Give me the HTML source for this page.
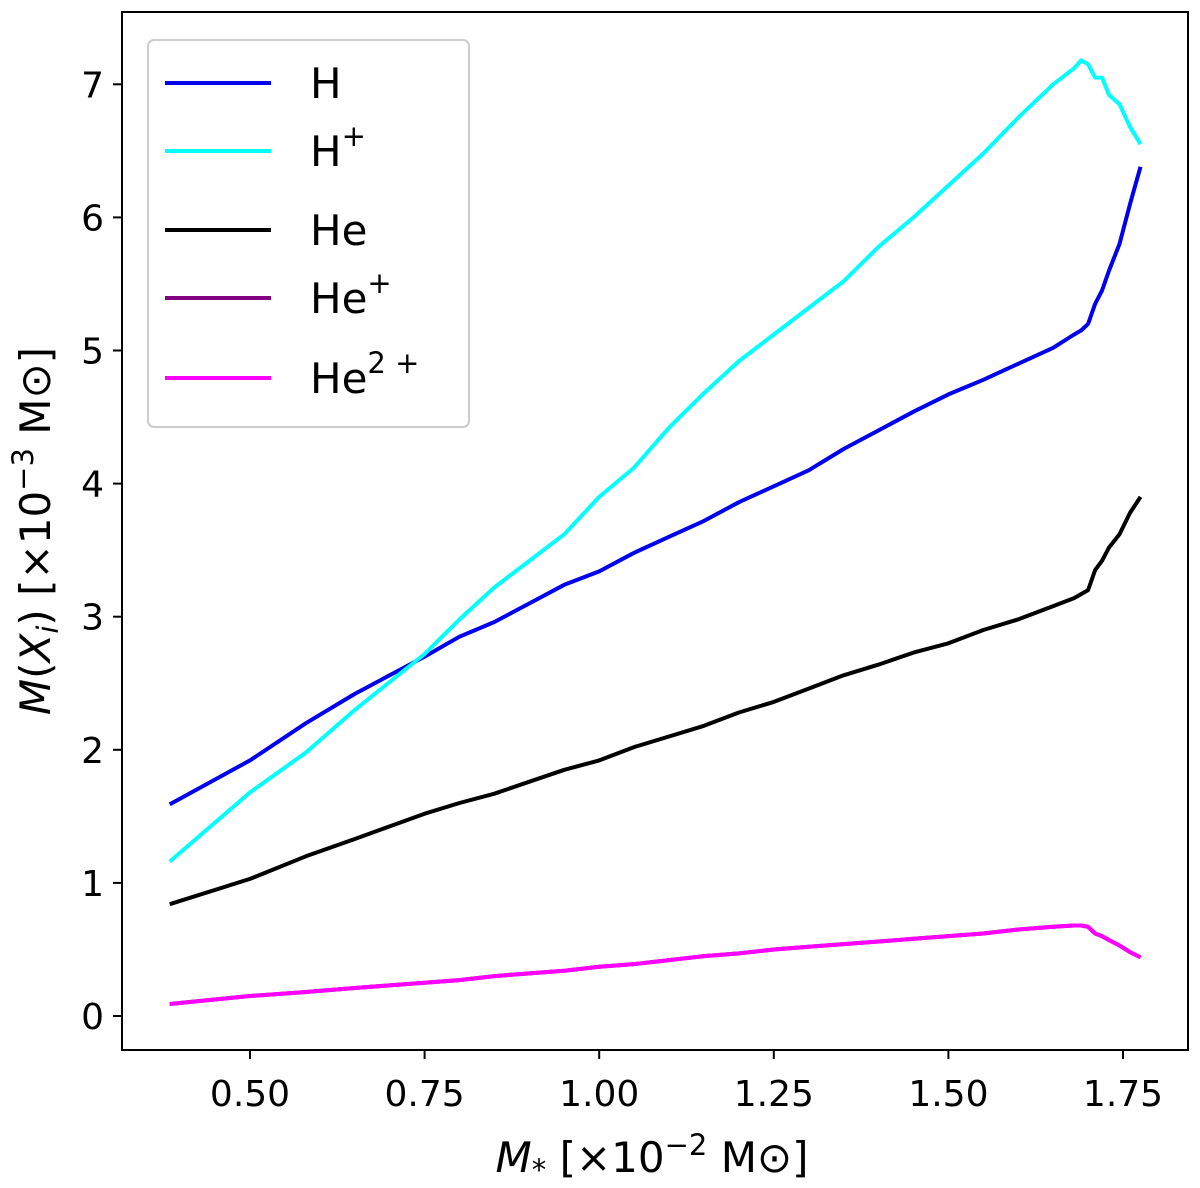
<!DOCTYPE html>
<html><head><meta charset="utf-8"><style>
body{margin:0;background:#fff}
text{font-family:"DejaVu Sans","Liberation Sans",sans-serif}
</style></head><body>
<svg id="chart" width="1200" height="1183" xmlns="http://www.w3.org/2000/svg">
<rect width="1200" height="1183" fill="#fff"/>
<g id="plot"></g>
<rect x="122" y="12" width="1066" height="1038" fill="none" stroke="#000" stroke-width="2"/>
<g id="ticks"></g>
<text x="652" y="1172" font-size="42" text-anchor="middle"><tspan font-style="italic">M</tspan><tspan font-size="29" dy="8">*</tspan><tspan dy="-8"> [×10</tspan><tspan font-size="29" dy="-17">−2</tspan><tspan dy="17"> M⊙]</tspan></text>
<text transform="translate(50,531) rotate(-90)" font-size="42" text-anchor="middle"><tspan font-style="italic">M</tspan>(<tspan font-style="italic">X</tspan><tspan font-size="29" dy="8" font-style="italic">i</tspan><tspan dy="-8">) [×10</tspan><tspan font-size="29" dy="-17">−3</tspan><tspan dy="17"> M⊙]</tspan></text>
<g>
<rect x="148" y="40" width="321" height="387" rx="6" fill="#fff" fill-opacity="0.8" stroke="#ccc" stroke-width="2"/>
<g id="legend-items"></g>
</g>
</svg>
<script>
const xs = [0.385,0.5,0.58,0.65,0.75,0.8,0.85,0.9,0.95,1.0,1.05,1.1,1.15,1.2,1.25,1.3,1.35,1.4,1.45,1.5,1.55,1.6,1.65,1.68,1.69,1.70,1.71,1.72,1.73,1.745,1.76,1.775];
const H = [1.59,1.92,2.2,2.42,2.7,2.85,2.96,3.1,3.24,3.34,3.48,3.6,3.72,3.86,3.98,4.1,4.26,4.4,4.54,4.67,4.78,4.9,5.02,5.12,5.15,5.2,5.35,5.45,5.6,5.8,6.1,6.38];
const Hp = [1.16,1.68,1.98,2.3,2.72,2.98,3.22,3.42,3.62,3.9,4.12,4.42,4.68,4.92,5.12,5.32,5.52,5.78,6.0,6.24,6.48,6.75,7.0,7.12,7.18,7.15,7.05,7.05,6.92,6.85,6.68,6.55];
const He = [0.84,1.03,1.2,1.33,1.52,1.6,1.67,1.76,1.85,1.92,2.02,2.1,2.18,2.28,2.36,2.46,2.56,2.64,2.73,2.8,2.9,2.98,3.08,3.14,3.17,3.2,3.35,3.42,3.52,3.62,3.78,3.9];
const Hep = [0.09,0.15,0.18,0.21,0.25,0.27,0.3,0.32,0.34,0.37,0.39,0.42,0.45,0.47,0.5,0.52,0.54,0.56,0.58,0.6,0.62,0.65,0.67,0.68,0.68,0.67,0.62,0.6,0.57,0.53,0.48,0.44];
const He2p = [0.09,0.15,0.18,0.21,0.25,0.27,0.3,0.32,0.34,0.37,0.39,0.42,0.45,0.47,0.5,0.52,0.54,0.56,0.58,0.6,0.62,0.65,0.67,0.68,0.68,0.67,0.62,0.6,0.57,0.53,0.48,0.44];
const xTicks = [0.5,0.75,1.0,1.25,1.5,1.75];
const xTickLabels = ["0.50","0.75","1.00","1.25","1.50","1.75"];
const yTicks = [0,1,2,3,4,5,6,7];
const names = ["H","H+","He","He+","He2+"];
const colors = ["#0000ee","#00ffff","#000000","#800080","#ff00ff"];
const series = [H,Hp,He,Hep,He2p];

const X = v => 250 + (v-0.5)*698.4;
const Y = v => 1016 - v*133.1;
const NS="http://www.w3.org/2000/svg";
function mk(t,a,p){const e=document.createElementNS(NS,t);for(const k in a)e.setAttribute(k,a[k]);p.appendChild(e);return e;}
const plot=document.getElementById('plot'), ticks=document.getElementById('ticks');
const slug=["h","h-plus","he","he-plus","he-2plus"];
[0,1,2,3,4].forEach(i=>{
  const d=xs.map((x,j)=>(j?'L':'M')+X(x).toFixed(1)+','+Y(series[i][j]).toFixed(1)).join('');
  const p=mk('path',{d:d,fill:'none',stroke:colors[i],'stroke-width':4,'stroke-linejoin':'round'},plot);
  
  
});
xTicks.forEach((v,i)=>{
  const l=mk('line',{x1:X(v),x2:X(v),y1:1050,y2:1059,stroke:'#000','stroke-width':2},ticks);
  
  
  const t=mk('text',{x:X(v),y:1106,'font-size':36,'text-anchor':'middle'},ticks);
  t.textContent=xTickLabels[i];
  
  
});
yTicks.forEach(v=>{
  const l=mk('line',{x1:113,x2:122,y1:Y(v),y2:Y(v),stroke:'#000','stroke-width':2},ticks);
  
  
  const t=mk('text',{x:104,y:Y(v)+13,'font-size':36,'text-anchor':'end'},ticks);
  t.textContent=String(v);
  
  
});
const lg=document.getElementById('legend-items');
const ly=[83,151,230,298,378];
const labels=[["H",""],["H","+"],["He",""],["He","+"],["He","2+"]];
labels.forEach((lb,i)=>{
  const g=mk('g',{},lg);
  
  
  mk('line',{x1:165,x2:271,y1:ly[i],y2:ly[i],stroke:colors[i],'stroke-width':4},g);
  const t=mk('text',{x:310,y:ly[i]+15,'font-size':42},g);
  t.textContent=lb[0];
  if(lb[1]){const s=mk('tspan',{'font-size':29,dy:-20},t);s.textContent=lb[1]==="2+"?"2 +":"+";}
});
</script>
</body></html>
